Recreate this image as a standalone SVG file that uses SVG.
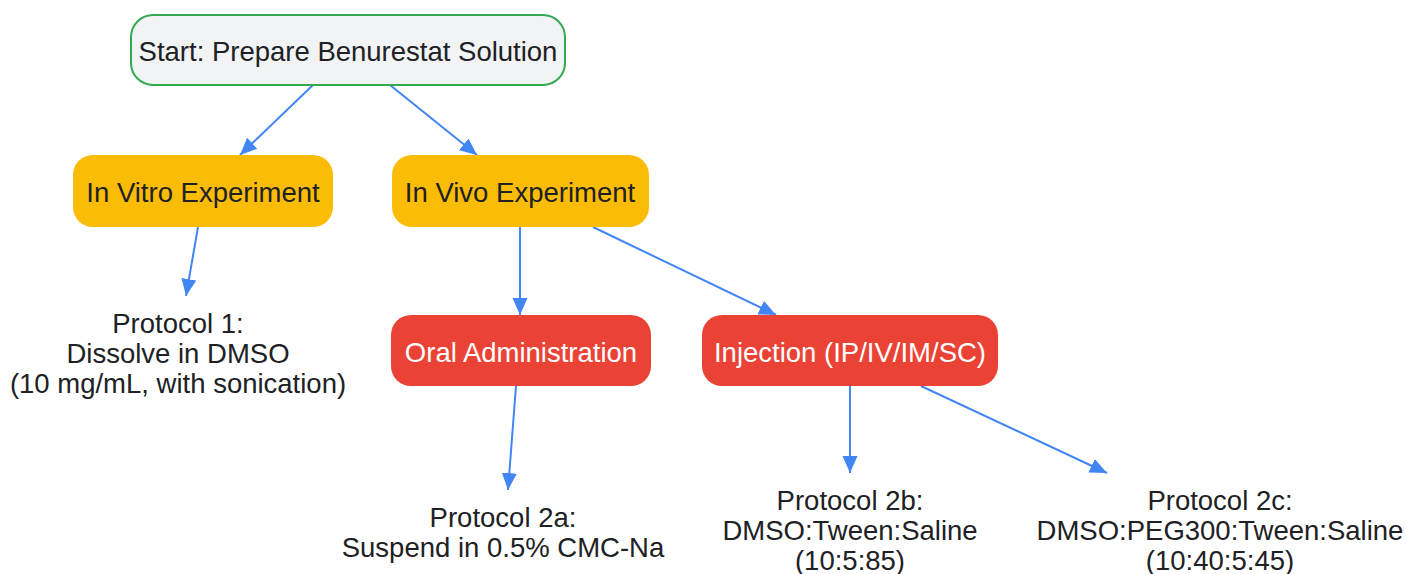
<svg xmlns="http://www.w3.org/2000/svg" width="1406" height="574" viewBox="0 0 1406 574">
<defs>
<marker id="arr" markerUnits="userSpaceOnUse" markerWidth="18" markerHeight="16" refX="17" refY="7.5" orient="auto">
<path d="M0,0 L17,7.5 L0,15 Z" fill="#4285f4"/>
</marker>
<style>
text{font-family:"Liberation Sans",Arial,sans-serif;font-size:27.5px;text-anchor:middle;fill:#202124}
.w{fill:#ffffff}
.start{fill:#f1f3f4;stroke:#34a853;stroke-width:2}
.exp{fill:#fbbc05}
.route{fill:#ea4335}
.edge{stroke:#4285f4;stroke-width:2;fill:none;marker-end:url(#arr)}
</style>
</defs>
<rect width="1406" height="574" fill="#ffffff"/>
<g id="connectors">
<line class="edge" x1="313" y1="85" x2="240" y2="155"/>
<line class="edge" x1="390" y1="85" x2="477" y2="155"/>
<line class="edge" x1="198" y1="227" x2="186" y2="296"/>
<line class="edge" x1="520" y1="227" x2="520" y2="315"/>
<line class="edge" x1="593" y1="227" x2="776" y2="315"/>
<line class="edge" x1="516" y1="386" x2="508" y2="490"/>
<line class="edge" x1="850" y1="386" x2="850" y2="473"/>
<line class="edge" x1="921" y1="386" x2="1107" y2="473"/>
</g>
<g id="start">
<rect class="start" x="131" y="15" width="434" height="70" rx="22"/>
<text x="348" y="61">Start: Prepare Benurestat Solution</text>
</g>
<g id="invitro">
<rect class="exp" x="73" y="155" width="260" height="72" rx="20"/>
<text x="203" y="202">In Vitro Experiment</text>
</g>
<g id="invivo">
<rect class="exp" x="392" y="155" width="257" height="72" rx="20"/>
<text x="520" y="202">In Vivo Experiment</text>
</g>
<g id="oral">
<rect class="route" x="391" y="315" width="260" height="71" rx="20"/>
<text class="w" x="521" y="362">Oral Administration</text>
</g>
<g id="injection">
<rect class="route" x="702" y="315" width="296" height="71" rx="20"/>
<text class="w" x="850" y="362">Injection (IP/IV/IM/SC)</text>
</g>
<g id="protocol1">
<text x="178" y="333">Protocol 1:</text>
<text x="178" y="363">Dissolve in DMSO</text>
<text x="178" y="393">(10 mg/mL, with sonication)</text>
</g>
<g id="protocol2a">
<text x="503" y="527">Protocol 2a:</text>
<text x="503" y="557">Suspend in 0.5% CMC-Na</text>
</g>
<g id="protocol2b">
<text x="850" y="510">Protocol 2b:</text>
<text x="850" y="540">DMSO:Tween:Saline</text>
<text x="850" y="570">(10:5:85)</text>
</g>
<g id="protocol2c">
<text x="1220" y="510">Protocol 2c:</text>
<text x="1220" y="540">DMSO:PEG300:Tween:Saline</text>
<text x="1220" y="570">(10:40:5:45)</text>
</g>
</svg>
